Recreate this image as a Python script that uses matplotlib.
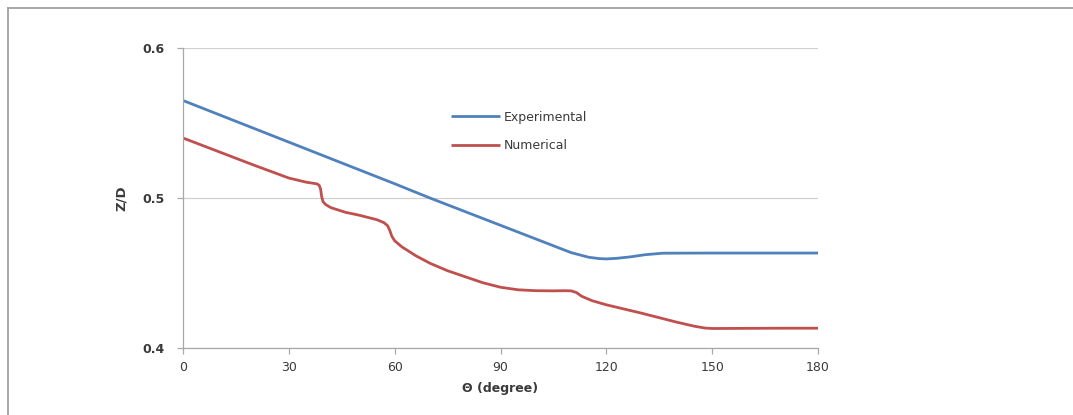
import matplotlib.pyplot as plt
from matplotlib.lines import Line2D

# values
exp_theta = [0, 20, 40, 60, 70, 90, 110, 115, 118, 120, 123, 127, 131, 136, 150, 180]
exp_zd = [0.565, 0.5465, 0.528, 0.5095, 0.5, 0.4818, 0.4636, 0.4605, 0.4596, 0.4594, 0.4598, 0.4608, 0.4622, 0.4632, 0.4633, 0.4633]

num_theta = [0, 10, 20, 30, 35, 37, 38, 38.6, 39, 39.3, 39.7, 40.5, 42, 46, 50, 55, 57, 58, 58.6, 59.2, 60, 62,
             66, 70, 75, 80, 85, 90, 95, 100, 105, 108, 110, 111.5, 113, 116, 120, 125, 130, 135, 140, 145, 148,
             150, 160, 170, 180]
num_zd = [0.54, 0.531, 0.522, 0.5133, 0.5105, 0.5098, 0.5094, 0.5085, 0.506, 0.501, 0.4975, 0.4955, 0.4935, 0.4905,
          0.4885, 0.4855, 0.4835, 0.4815, 0.4785, 0.4745, 0.4715, 0.4675, 0.4615, 0.4565, 0.4515, 0.4475, 0.4435,
          0.4405, 0.4388, 0.4382, 0.4381, 0.4382, 0.4381, 0.437, 0.4345, 0.4315, 0.4288, 0.426, 0.4232, 0.4202,
          0.4172, 0.4145, 0.4133, 0.413, 0.4131, 0.4132, 0.4132]

x_ticks = [0, 30, 60, 90, 120, 150, 180]
y_ticks = [0.4, 0.5, 0.6]

blue = "#4F81BD"
red = "#C0504D"
txt = "#3a3a3a"

fig = plt.figure(figsize=(10.73, 4.15), dpi=100)
ax = fig.add_axes([183 / 1073, 1 - 348 / 415, 635 / 1073, 300 / 415])

ax.plot(exp_theta, exp_zd, color=blue, lw=2.0, label="Experimental", solid_capstyle="butt")
ax.plot(num_theta, num_zd, color=red, lw=2.0, label="Numerical", solid_capstyle="butt")

ax.set_xlim(0, 180)
ax.set_ylim(0.4, 0.6)
ax.set_xticks(x_ticks)
ax.set_yticks(y_ticks)
ax.set_yticklabels([f"{v:.1f}" for v in y_ticks], fontweight="bold")
ax.yaxis.grid(True, color="#d0d0d0", lw=0.9)
ax.set_axisbelow(True)

for s in ["top", "right"]:
    ax.spines[s].set_visible(False)
for s in ["left", "bottom"]:
    ax.spines[s].set_color("#a8a8a8")
    ax.spines[s].set_linewidth(0.9)

ax.tick_params(axis="both", colors="#a8a8a8", labelcolor=txt, length=4, width=0.9, labelsize=9)
ax.tick_params(axis="y", pad=9)
ax.tick_params(axis="x", pad=5)

ax.set_xlabel("\u0398 (degree)", fontsize=9, fontweight="bold", color=txt, labelpad=6)
ax.set_ylabel("Z/D", fontsize=9.5, fontweight="bold", color=txt, labelpad=11)

ax.legend(loc="upper left", bbox_to_anchor=(0.405, 0.828), frameon=False, fontsize=9,
          handlelength=3.9, handletextpad=0.3, labelspacing=1.25, labelcolor=txt)

# outer frame of the pasted chart (left and top edges visible)
fig.add_artist(Line2D([8 / 1073, 8 / 1073], [0, 1 - 8 / 415], transform=fig.transFigure, color="#a0a0a0", lw=1.3))
fig.add_artist(Line2D([8 / 1073, 1], [1 - 8 / 415, 1 - 8 / 415], transform=fig.transFigure, color="#a0a0a0", lw=1.3))

fig.savefig("out.png", dpi=100)
